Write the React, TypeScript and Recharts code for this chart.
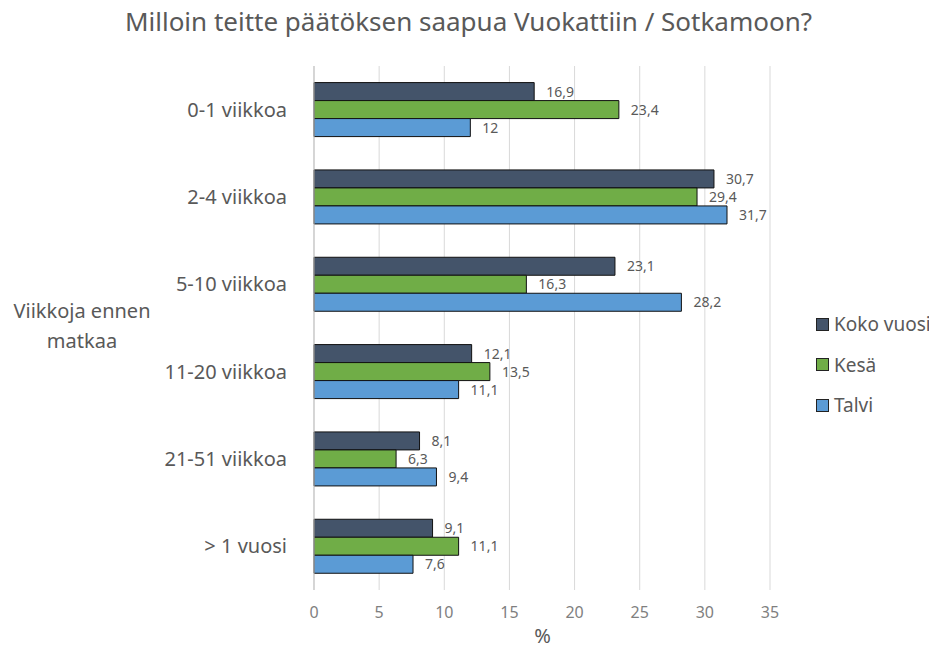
import { Bar, BarChart, CartesianGrid, LabelList, XAxis, YAxis } from "recharts";

const categories = ["0-1 viikkoa", "2-4 viikkoa", "5-10 viikkoa", "11-20 viikkoa", "21-51 viikkoa", "> 1 vuosi"];
const kokoVuosi = [16.9, 30.7, 23.1, 12.1, 8.1, 9.1];
const kesa = [23.4, 29.4, 16.3, 13.5, 6.3, 11.1];
const talvi = [12, 31.7, 28.2, 11.1, 9.4, 7.6];
const xTicks = [0, 5, 10, 15, 20, 25, 30, 35];

const series = [
  { key: "koko", name: "Koko vuosi", color: "#44546A" },
  { key: "kesa", name: "Kesä", color: "#70AD47" },
  { key: "talvi", name: "Talvi", color: "#5B9BD5" },
];

const data = categories.map((name, i) => ({
  name,
  koko: kokoVuosi[i],
  kesa: kesa[i],
  talvi: talvi[i],
}));

const FONT = "'Noto Sans', 'Open Sans', sans-serif";
const fmt = (v: any) => String(v).replace(".", ",");

function YTick({ x, y, payload }: any) {
  return (
    <text x={x - 19} y={y} dy={7} textAnchor="end" fontSize={20} fill="#595959" fontFamily={FONT}>
      {payload.value}
    </text>
  );
}

function LegendBox() {
  return (
    <div style={{ position: "absolute", left: 816, top: 304, fontFamily: FONT, fontSize: 19, color: "#595959", whiteSpace: "nowrap" }}>
      {series.map((s) => (
        <div key={s.key} style={{ display: "flex", alignItems: "center", height: 40.5 }}>
          <span
            style={{
              display: "inline-block",
              width: 11,
              height: 11,
              background: s.color,
              border: "1px solid #222",
              marginRight: 5,
            }}
          />
          {s.name}
        </div>
      ))}
    </div>
  );
}

export default function App() {
  return (
    <div style={{ position: "relative", width: 937, height: 655, margin: -8, background: "#fff", fontFamily: FONT }}>
      <div
        style={{
          position: "absolute",
          top: 3,
          left: 0,
          width: 937,
          textAlign: "center",
          fontSize: 26,
          color: "#595959",
        }}
      >
        Milloin teitte päätöksen saapua Vuokattiin / Sotkamoon?
      </div>
      <div style={{ position: "absolute", left: 0, top: 296, width: 164, textAlign: "center", fontSize: 20, color: "#595959", lineHeight: "30px" }}>
        Viikkoja ennen
        <br />
        matkaa
      </div>
      <div style={{ position: "absolute", left: 0, top: 624, width: 1085, textAlign: "center", fontSize: 20, lineHeight: "24px", color: "#595959", zIndex: 2 }}>
        %
      </div>
      <BarChart
        width={937}
        height={655}
        data={data}
        layout="vertical"
        margin={{ top: 66, right: 167, bottom: 0, left: 0 }}
        barCategoryGap="19%"
        barGap={0}
      >
        <CartesianGrid horizontal={false} stroke="#d9d9d9" />
        <XAxis
          type="number"
          domain={[0, 35]}
          ticks={xTicks}
          axisLine={false}
          tickLine={false}
          tickMargin={11}
          tick={{ fontSize: 16, fill: "#7f7f7f", fontFamily: FONT }}
          height={65}
        />
        <YAxis
          type="category"
          dataKey="name"
          width={314}
          axisLine={{ stroke: "#bfbfbf" }}
          tickLine={false}
          tick={<YTick />}
        />
        {series.map((s) => (
          <Bar key={s.key} dataKey={s.key} name={s.name} fill={s.color} stroke="#111" strokeWidth={1} isAnimationActive={false}>
            <LabelList dataKey={s.key} position="right" offset={12} formatter={fmt} fontSize={14} fill="#595959" fontFamily={FONT} />
          </Bar>
        ))}
      </BarChart>
      <LegendBox />
    </div>
  );
}
